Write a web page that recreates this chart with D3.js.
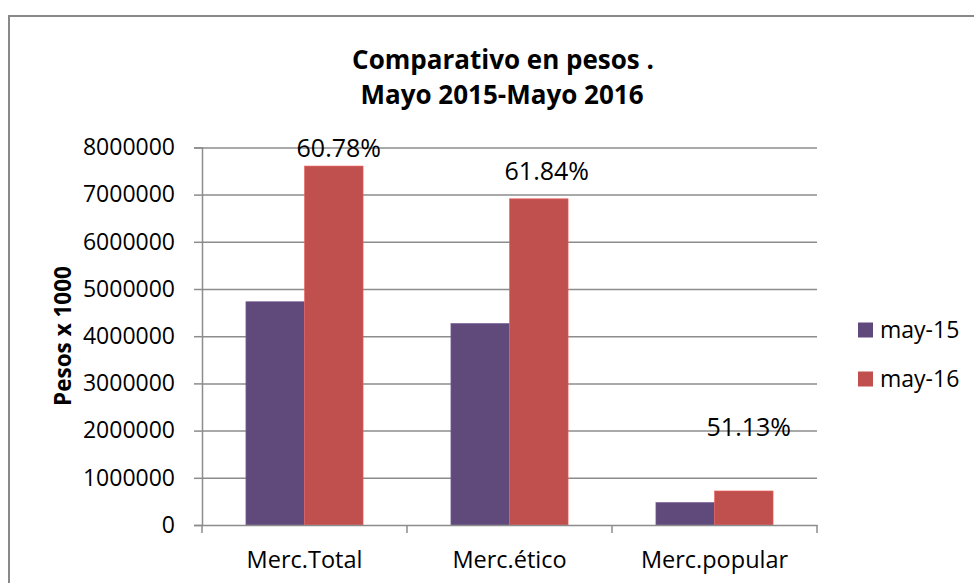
<!DOCTYPE html>
<html>
<head>
<meta charset="utf-8">
<script src="https://cdn.jsdelivr.net/npm/d3@7/dist/d3.min.js"></script>
<style>
    html, body { margin: 0; padding: 0; background: #fff; }
    svg { display: block; font-family: "Open Sans", sans-serif; }
</style>
</head>
<body>
<svg id="chart" width="974" height="583"></svg>
<script>
(function () {

    var categories = ['Merc.Total', 'Merc.ético', 'Merc.popular'];
    var seriesNames = ['may-15', 'may-16'];
    var may15 = [4730000, 4270000, 477000];
    var may16 = [7605000, 6911000, 721000];
    var changeLabels = ['60.78%', '61.84%', '51.13%'];
    var yTicks = [0, 1000000, 2000000, 3000000, 4000000, 5000000, 6000000, 7000000, 8000000];
    var colors = ['#604a7b', '#c0504d'];

    // label lift above the may-16 bar, by hand like in the sheet
    var labelLift = [9, 19, 55];
    var labelShift = [5, 8, 5];

    var svg = d3.select('#chart');
    var left = 202, right = 817, top = 147.4, bottom = 525;

    // chart frame (only the left and top edges show)
    svg.append('rect')
        .attr('x', 9).attr('y', 16)
        .attr('width', 1000).attr('height', 600)
        .attr('fill', 'none')
        .attr('stroke', '#898989')
        .attr('stroke-width', 2);

    var x = d3.scaleBand().domain(categories).range([left, right]);
    var xs = d3.scaleBand().domain(seriesNames).range([0, x.bandwidth()])
        .paddingInner(0).paddingOuter(0.75);
    var y = d3.scaleLinear().domain([0, 8000000]).range([bottom, top]);

    // gridlines
    svg.append('g')
        .attr('transform', 'translate(' + left + ',0)')
        .call(d3.axisLeft(y).tickValues(yTicks.slice(1)).tickSize(-(right - left)).tickFormat(''))
        .call(function (g) {
            g.select('.domain').remove();
            g.selectAll('line').attr('stroke', '#8c8c8c').attr('stroke-width', 1.5);
        });

    // bars
    var groups = svg.append('g').selectAll('g')
        .data(categories)
        .join('g')
        .attr('transform', function (d) { return 'translate(' + x(d) + ',0)'; });

    groups.selectAll('rect')
        .data(function (d, i) {
            return [
                { s: seriesNames[0], v: may15[i], c: colors[0] },
                { s: seriesNames[1], v: may16[i], c: colors[1] }
            ];
        })
        .join('rect')
        .attr('x', function (d) { return xs(d.s); })
        .attr('y', function (d) { return y(d.v); })
        .attr('width', xs.bandwidth())
        .attr('height', function (d) { return bottom - y(d.v); })
        .attr('fill', function (d) { return d.c; })
        .attr('stroke', function (d) { return d3.color(d.c).brighter(0.6); })
        .attr('stroke-width', 0.6);

    // y axis
    svg.append('g')
        .attr('transform', 'translate(' + left + ',0)')
        .call(d3.axisLeft(y).tickValues(yTicks).tickSize(8).tickPadding(19).tickFormat(d3.format('d')))
        .call(function (g) {
            g.select('.domain').attr('stroke', '#8c8c8c').attr('stroke-width', 1.5);
            g.selectAll('line').attr('stroke', '#8c8c8c').attr('stroke-width', 1.5);
            g.selectAll('text').attr('font-size', 23).attr('font-family', '"Open Sans", sans-serif').attr('fill', '#000');
        });

    // x axis
    svg.append('g')
        .attr('transform', 'translate(0,' + bottom + ')')
        .call(d3.axisBottom(x).tickSize(0).tickPadding(26))
        .call(function (g) {
            g.select('.domain').attr('stroke', '#8c8c8c').attr('stroke-width', 1.5);
            g.selectAll('text').attr('font-size', 23.5).attr('font-family', '"Open Sans", sans-serif').attr('fill', '#000');
        });

    // category dividers on the x axis
    svg.append('g').selectAll('line')
        .data(categories.concat(['end']))
        .join('line')
        .attr('x1', function (d, i) { return i < categories.length ? x(d) : right; })
        .attr('x2', function (d, i) { return i < categories.length ? x(d) : right; })
        .attr('y1', bottom).attr('y2', bottom + 8)
        .attr('stroke', '#8c8c8c').attr('stroke-width', 1.5);

    // percentage labels over may-16 bars
    svg.append('g').selectAll('text')
        .data(categories)
        .join('text')
        .attr('x', function (d, i) { return x(d) + xs(seriesNames[1]) + xs.bandwidth() / 2 + labelShift[i]; })
        .attr('y', function (d, i) { return y(may16[i]) - labelLift[i]; })
        .attr('text-anchor', 'middle')
        .attr('font-size', 25)
        .text(function (d, i) { return changeLabels[i]; });

    // title
    var title = svg.append('text')
        .attr('text-anchor', 'middle')
        .attr('font-weight', 'bold')
        .attr('font-size', 26);
    title.append('tspan').attr('x', 503).attr('y', 69).text('Comparativo en pesos .');
    title.append('tspan').attr('x', 502).attr('y', 104).text('Mayo 2015-Mayo 2016');

    // y axis title
    svg.append('text')
        .attr('transform', 'translate(71,336) rotate(-90)')
        .attr('text-anchor', 'middle')
        .attr('font-weight', 'bold')
        .attr('font-size', 22.5)
        .text('Pesos x 1000');

    // legend
    var legend = svg.append('g').selectAll('g')
        .data(seriesNames)
        .join('g')
        .attr('transform', function (d, i) { return 'translate(858,' + (330 + i * 49) + ')'; });

    legend.append('rect')
        .attr('x', 0).attr('y', -7.5)
        .attr('width', 15).attr('height', 15)
        .attr('fill', function (d, i) { return colors[i]; });

    legend.append('text')
        .attr('x', 22).attr('y', 8)
        .attr('font-size', 23)
        .text(function (d) { return d; });

})();
</script>
</body>
</html>
